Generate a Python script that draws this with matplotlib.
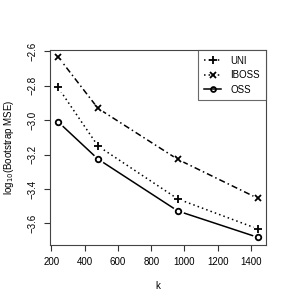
import matplotlib
matplotlib.use("Agg")
import matplotlib.pyplot as plt
from matplotlib.lines import Line2D

k = [240, 480, 960, 1440]
uni = [-2.809, -3.150, -3.458, -3.632]
iboss = [-2.631, -2.931, -3.228, -3.454]
oss = [-3.009, -3.226, -3.528, -3.681]
xticks = [200, 400, 600, 800, 1000, 1200, 1400]
yticks = [-3.6, -3.4, -3.2, -3.0, -2.8, -2.6]

plt.rcParams['font.family'] = ['Liberation Sans', 'DejaVu Sans']
fig = plt.figure(figsize=(2.91, 3.07), dpi=100)
W, H = 291, 307
ax = fig.add_axes([50 / W, 1 - 244.7 / H, (265.7 - 50) / W, (244.7 - 50) / H])

series = [
    (uni, (0, (1, 2)), '+', 'UNI', 6),
    (iboss, (0, (4, 2, 1, 2)), 'x', 'IBOSS', 4),
    (oss, '-', 'o', 'OSS', 4),
]
for y, ls, mk, lab, ms in series:
    ax.plot(k, y, color='black', linestyle=ls, lw=1.1, zorder=2)
    ax.plot(k, y, linestyle='none', marker='o', ms=8, mfc='white', mec='none', zorder=3)
    ax.plot(k, y, linestyle='none', marker=mk, ms=ms, mfc='none', mec='black', mew=1.3, zorder=4)

ax.set_xlim(192, 1488)
ax.set_ylim(-3.724, -2.592)
ax.set_xticks(xticks)
ax.set_xticklabels([str(t) for t in xticks], fontsize=7)
ax.set_yticks(yticks)
ax.set_yticklabels([f"{t:.1f}".replace('-', '\u2212') for t in yticks], fontsize=7, rotation=90, va='center')
ax.tick_params(direction='out', length=4, width=0.8, colors='#333333', labelcolor='black', pad=5)
for s in ax.spines.values():
    s.set_linewidth(0.8)
    s.set_color('#444444')

ax.set_xlabel('k', fontsize=7, labelpad=10)
ax.set_ylabel('log$_{10}$(Bootstrap MSE)', fontsize=7, labelpad=8)

handles = [
    Line2D([], [], color='black', linestyle=(0, (1, 2)), marker='+', ms=6, mew=1.3, lw=1.1),
    Line2D([], [], color='black', linestyle=(0, (1, 2)), marker='x', ms=4, mew=1.3, lw=1.1),
    Line2D([], [], color='black', linestyle='-', marker='o', ms=3.5, mfc='none', mew=1.3, lw=1.1),
]
leg = ax.legend(handles, ['UNI', 'IBOSS', 'OSS'], loc='upper right', fontsize=7,
                frameon=True, fancybox=False, borderaxespad=0, handlelength=1.8,
                handletextpad=0.9, labelspacing=0.45, borderpad=0.6)
leg.get_frame().set_edgecolor('#444444')
leg.get_frame().set_linewidth(0.8)

fig.savefig('out.png', dpi=100)
